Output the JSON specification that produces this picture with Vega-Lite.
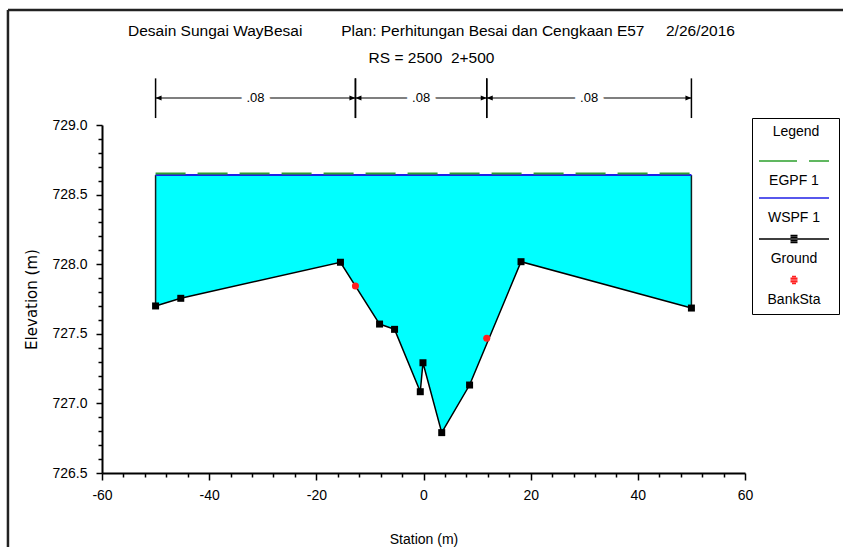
{
  "$schema": "https://vega.github.io/schema/vega-lite/v6.json",
  "autosize": "none",
  "width": 643,
  "height": 348,
  "padding": {"left": 102, "top": 125, "right": 98, "bottom": 74},
  "background": "white",
  "config": {
    "view": {"stroke": null},
    "font": "Liberation Sans"
  },
  "title": {
    "text": "Desain Sungai WayBesai\u00a0\u00a0\u00a0\u00a0\u00a0\u00a0\u00a0\u00a0\u00a0Plan: Perhitungan Besai dan Cengkaan E57\u00a0\u00a0\u00a0\u00a0\u00a02/26/2016",
    "subtitle": "RS = 2500\u00a0\u00a02+500",
    "font": "Liberation Sans",
    "subtitleFont": "Liberation Sans",
    "fontSize": 15.5,
    "subtitleFontSize": 15.5,
    "fontWeight": "normal",
    "color": "black",
    "subtitleColor": "black",
    "subtitlePadding": 12,
    "anchor": "middle",
    "frame": "group",
    "dx": 8,
    "offset": -58
  },
  "datasets": {
    "ground": [
      {"station": -50, "elev": 727.70},
      {"station": -45.3, "elev": 727.755},
      {"station": -15.5, "elev": 728.014},
      {"station": -8.2, "elev": 727.57},
      {"station": -5.4, "elev": 727.532},
      {"station": -0.6, "elev": 727.084},
      {"station": -0.1, "elev": 727.292},
      {"station": 3.4, "elev": 726.79},
      {"station": 8.6, "elev": 727.132},
      {"station": 18.2, "elev": 728.018},
      {"station": 50, "elev": 727.685}
    ],
    "bank": [
      {"station": -12.7, "elev": 727.843},
      {"station": 11.8, "elev": 727.468}
    ],
    "profiles": [
      {"profile": "WSPF 1", "station": -50, "elev": 728.64},
      {"profile": "WSPF 1", "station": 50, "elev": 728.64},
      {"profile": "EGPF 1", "station": -50, "elev": 728.652},
      {"profile": "EGPF 1", "station": 50, "elev": 728.652}
    ],
    "nzones": [
      {"from": -50, "to": -12.7, "n": 0.08},
      {"from": -12.7, "to": 11.8, "n": 0.08},
      {"from": 11.8, "to": 50, "n": 0.08}
    ]
  },
  "layer": [
    {
      "data": {"name": "ground"},
      "mark": {"type": "area", "color": "#00ffff", "opacity": 1},
      "encoding": {
        "x": {
          "field": "station", "type": "quantitative",
          "scale": {"domain": [-60, 60], "nice": false, "zero": false},
          "axis": {
            "title": "Station (m)",
            "values": [-60,-56,-52,-48,-44,-40,-36,-32,-28,-24,-20,-16,-12,-8,-4,0,4,8,12,16,20,24,28,32,36,40,44,48,52,56,60],
            "tickCount": 200,
            "labelExpr": "datum.value % 20 === 0 ? '' + datum.value : ''",
            "tickSize": {"condition": {"test": "datum.value % 20 === 0", "value": 7}, "value": 4},
            "grid": false,
            "domainColor": "black", "domainWidth": 2,
            "tickColor": "black", "tickWidth": 1.5,
            "labelFont": "Liberation Sans", "labelFontSize": 14, "labelColor": "black",
            "labelPadding": 8, "labelFlush": false, "labelOverlap": false,
            "titleFont": "Liberation Sans", "titleFontSize": 14, "titleFontWeight": "normal",
            "titleColor": "black", "titlePadding": 30
          }
        },
        "y": {
          "field": "elev", "type": "quantitative",
          "scale": {"domain": [726.5, 729], "nice": false, "zero": false},
          "axis": {
            "title": "Elevation (m)",
            "values": [726.5,726.6,726.7,726.8,726.9,727.0,727.1,727.2,727.3,727.4,727.5,727.6,727.7,727.8,727.9,728.0,728.1,728.2,728.3,728.4,728.5,728.6,728.7,728.8,728.9,729.0],
            "tickCount": 200,
            "labelExpr": "round(datum.value * 10) % 5 === 0 ? format(datum.value, '.1f') : ''",
            "tickSize": {"condition": {"test": "round(datum.value * 10) % 5 === 0", "value": 6}, "value": 4},
            "grid": false,
            "domainColor": "black", "domainWidth": 2,
            "tickColor": "black", "tickWidth": 1.5,
            "labelFont": "Liberation Sans", "labelFontSize": 14, "labelColor": "black",
            "labelPadding": 9, "labelFlush": false, "labelOverlap": false,
            "titleFont": "DejaVu Sans", "titleFontSize": 15, "titleFontWeight": "normal",
            "titleColor": "black", "titlePadding": 12
          }
        },
        "y2": {"datum": 728.64}
      }
    },
    {
      "data": {"name": "ground"},
      "transform": [{"filter": "datum.station === -50 || datum.station === 50"}],
      "mark": {"type": "rule", "color": "#102020", "strokeWidth": 1.5},
      "encoding": {
        "x": {"field": "station", "type": "quantitative"},
        "y": {"field": "elev", "type": "quantitative"},
        "y2": {"datum": 728.64}
      }
    },
    {
      "data": {"name": "profiles"},
      "transform": [{"filter": "datum.profile === 'WSPF 1'"}],
      "mark": {"type": "line", "strokeWidth": 2},
      "encoding": {
        "x": {"field": "station", "type": "quantitative"},
        "y": {"field": "elev", "type": "quantitative"},
        "color": {
          "field": "profile", "type": "nominal",
          "scale": {"domain": ["EGPF 1", "WSPF 1", "Ground", "BankSta"], "range": ["#2ca02c", "#1f1fe6", "black", "#ff2020"]},
          "legend": {
            "title": "Legend", "orient": "none", "legendX": 650, "legendY": -7, "direction": "vertical",
            "strokeColor": "black", "fillColor": "white", "padding": 7, "cornerRadius": 0,
            "titleFont": "Liberation Sans", "titleFontSize": 14, "titleFontWeight": "normal", "titleAnchor": "middle", "titleColor": "black", "titlePadding": 31,
            "labelFont": "Liberation Sans", "labelFontSize": 14, "labelColor": "black", "labelAlign": "center", "labelBaseline": "middle", "labelOffset": -11,
            "symbolSize": 400, "symbolOffset": 24, "symbolStrokeWidth": 1.5, "symbolOpacity": 1, "symbolFillColor": "transparent", "rowPadding": 7
          }
        }
      }
    },
    {
      "data": {"name": "profiles"},
      "transform": [{"filter": "datum.profile === 'EGPF 1'"}],
      "mark": {"type": "line", "strokeWidth": 2, "strokeDash": [30, 12]},
      "encoding": {
        "x": {"field": "station", "type": "quantitative"},
        "y": {"field": "elev", "type": "quantitative"},
        "color": {"field": "profile", "type": "nominal"}
      }
    },
    {
      "data": {"name": "ground"},
      "mark": {"type": "line", "strokeWidth": 1.5},
      "encoding": {
        "x": {"field": "station", "type": "quantitative"},
        "y": {"field": "elev", "type": "quantitative"},
        "color": {"datum": "Ground", "type": "nominal"}
      }
    },
    {
      "data": {"name": "ground"},
      "mark": {"type": "square", "color": "black", "size": 49, "opacity": 1},
      "encoding": {
        "x": {"field": "station", "type": "quantitative"},
        "y": {"field": "elev", "type": "quantitative"}
      }
    },
    {
      "data": {"name": "bank"},
      "mark": {"type": "circle", "size": 50, "opacity": 1},
      "encoding": {
        "x": {"field": "station", "type": "quantitative"},
        "y": {"field": "elev", "type": "quantitative"},
        "color": {"datum": "BankSta", "type": "nominal"}
      }
    },
    {
      "data": {"name": "bank"},
      "transform": [{"filter": "false"}],
      "mark": {"type": "point", "size": 400, "strokeWidth": 1.5, "opacity": 1},
      "encoding": {
        "x": {"field": "station", "type": "quantitative"},
        "y": {"field": "elev", "type": "quantitative"},
        "color": {"datum": "BankSta", "type": "nominal"},
        "shape": {
          "datum": "BankSta", "type": "nominal",
          "scale": {
            "domain": ["EGPF 1", "WSPF 1", "Ground", "BankSta"],
            "range": [
              "M-3.5,-2H0.3M1.5,-2H3.5",
              "M-3.5,-2H3.5",
              "M-3.5,-2H3.5M-0.35,-2.35H0.35M-0.35,-2.175H0.35M-0.35,-1.825H0.35M-0.35,-1.65H0.35",
              "M-0.2,-2.35H0.2M-0.35,-2.175H0.35M-0.35,-2H0.35M-0.35,-1.825H0.35M-0.2,-1.65H0.2"
            ]
          },
          "legend": {
            "title": "Legend", "orient": "none", "legendX": 650, "legendY": -7, "direction": "vertical",
            "strokeColor": "black", "fillColor": "white", "padding": 7, "cornerRadius": 0,
            "titleFont": "Liberation Sans", "titleFontSize": 14, "titleFontWeight": "normal", "titleAnchor": "middle", "titleColor": "black", "titlePadding": 31,
            "labelFont": "Liberation Sans", "labelFontSize": 14, "labelColor": "black", "labelAlign": "center", "labelBaseline": "middle", "labelOffset": -11,
            "symbolSize": 400, "symbolOffset": 24, "symbolStrokeWidth": 1.5, "symbolOpacity": 1, "symbolFillColor": "transparent", "rowPadding": 7
          }
        }
      }
    },
    {
      "data": {"name": "nzones"},
      "mark": {"type": "rule", "color": "black", "strokeWidth": 1.5},
      "encoding": {
        "x": {"field": "from", "type": "quantitative"},
        "y": {"datum": 729.05, "type": "quantitative"},
        "y2": {"datum": 729.335}
      }
    },
    {
      "data": {"name": "nzones"},
      "mark": {"type": "rule", "color": "black", "strokeWidth": 1.5},
      "encoding": {
        "x": {"field": "to", "type": "quantitative"},
        "y": {"datum": 729.05, "type": "quantitative"},
        "y2": {"datum": 729.335}
      }
    },
    {
      "data": {"name": "nzones"},
      "mark": {"type": "rule", "color": "black", "strokeWidth": 1.2},
      "encoding": {
        "x": {"field": "from", "type": "quantitative"},
        "x2": {"field": "to"},
        "y": {"datum": 729.194, "type": "quantitative"}
      }
    },
    {
      "data": {"name": "nzones"},
      "mark": {"type": "point", "shape": "M0,0L1.2,-0.5L1.2,0.5Z", "filled": true, "color": "black", "size": 100, "opacity": 1},
      "encoding": {
        "x": {"field": "from", "type": "quantitative"},
        "y": {"datum": 729.194, "type": "quantitative"}
      }
    },
    {
      "data": {"name": "nzones"},
      "mark": {"type": "point", "shape": "M0,0L-1.2,-0.5L-1.2,0.5Z", "filled": true, "color": "black", "size": 100, "opacity": 1},
      "encoding": {
        "x": {"field": "to", "type": "quantitative"},
        "y": {"datum": 729.194, "type": "quantitative"}
      }
    },
    {
      "data": {"name": "nzones"},
      "transform": [
        {"calculate": "(datum.from + datum.to) / 2", "as": "mid"},
        {"calculate": "'.' + substring(format(datum.n, '.2f'), 2)", "as": "label"}
      ],
      "mark": {"type": "text", "fontSize": 13, "font": "Liberation Sans", "color": "white", "stroke": "white", "strokeWidth": 12, "baseline": "middle", "align": "center"},
      "encoding": {
        "x": {"field": "mid", "type": "quantitative"},
        "y": {"datum": 729.194, "type": "quantitative"},
        "text": {"field": "label"}
      }
    },
    {
      "data": {"name": "nzones"},
      "transform": [
        {"calculate": "(datum.from + datum.to) / 2", "as": "mid"},
        {"calculate": "'.' + substring(format(datum.n, '.2f'), 2)", "as": "label"}
      ],
      "mark": {"type": "text", "fontSize": 13, "font": "Liberation Sans", "color": "black", "baseline": "middle", "align": "center"},
      "encoding": {
        "x": {"field": "mid", "type": "quantitative"},
        "y": {"datum": 729.194, "type": "quantitative"},
        "text": {"field": "label"}
      }
    },
    {
      "data": {"values": [{}]},
      "mark": {"type": "rule", "color": "#222222", "strokeWidth": 2.5},
      "encoding": {
        "x": {"datum": -77.55, "type": "quantitative"},
        "y": {"datum": 729.826, "type": "quantitative"},
        "y2": {"datum": 725.9}
      }
    },
    {
      "data": {"values": [{}]},
      "mark": {"type": "rule", "color": "#222222", "strokeWidth": 2.5},
      "encoding": {
        "x": {"datum": -77.55, "type": "quantitative"},
        "x2": {"datum": 80},
        "y": {"datum": 729.826, "type": "quantitative"}
      }
    }
  ]
}
